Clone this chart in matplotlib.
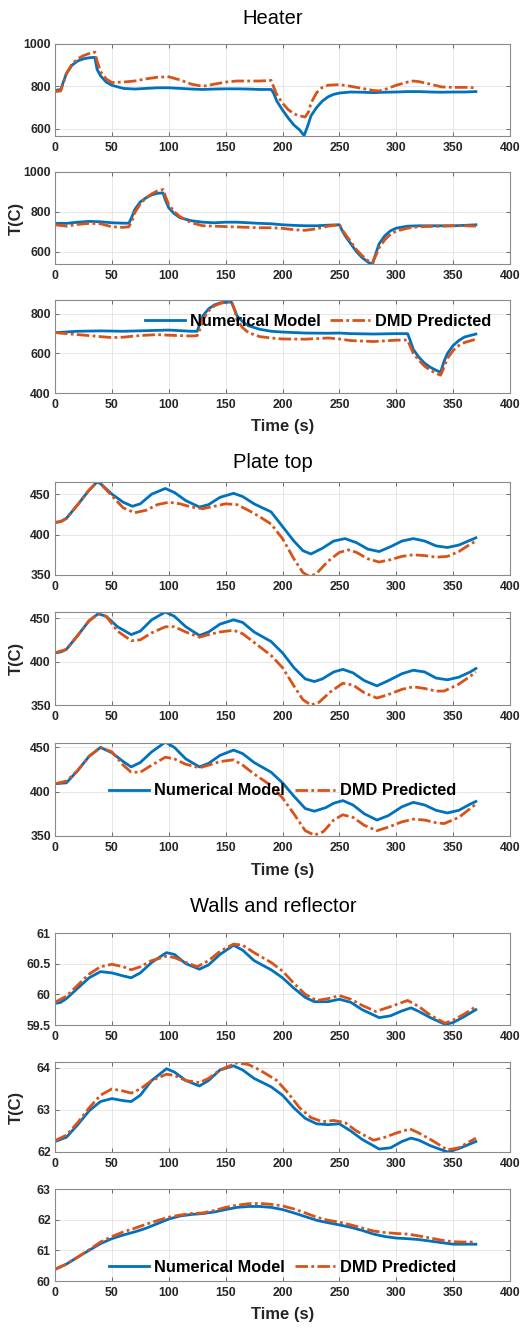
import matplotlib
matplotlib.use("Agg")
import matplotlib.pyplot as plt

plt.rcParams["font.family"] = ["Liberation Sans", "DejaVu Sans"]

FIG_W, FIG_H = 525, 1328
BLUE = "#0072BD"
ORANGE = "#D95319"

# ---------------- Heater ----------------
h1_t_num = [0, 5, 10, 15, 20, 25, 30, 35, 37, 40, 45, 50, 60, 70, 80, 90, 100, 110, 120, 130, 140, 150, 160,
            170, 180, 190, 192, 195, 200, 205, 210, 215, 219, 222, 225, 230, 235, 240, 245, 250, 260, 270, 280,
            290, 300, 310, 320, 330, 340, 350, 360, 370]
h1_num = [780, 785, 860, 900, 920, 930, 935, 937, 880, 850, 820, 805, 790, 787, 790, 793, 793, 790, 787, 785, 787,
          788, 788, 787, 785, 785, 770, 730, 688, 650, 617, 594, 567, 610, 660, 700, 730, 750, 762, 768, 773, 772,
          770, 772, 773, 775, 775, 773, 772, 773, 773, 775]
h1_t_dmd = [0, 5, 10, 15, 20, 25, 30, 35, 37, 40, 45, 50, 60, 70, 80, 90, 100, 110, 120, 130, 140, 150, 160, 170,
            180, 190, 192, 195, 200, 205, 210, 215, 220, 223, 225, 230, 235, 240, 250, 260, 270, 280, 285, 290, 300,
            310, 315, 320, 330, 340, 350, 360, 370]
h1_dmd = [775, 778, 860, 905, 930, 945, 955, 962, 920, 870, 835, 818, 820, 825, 835, 843, 845, 830, 810, 800, 810,
          820, 825, 825, 825, 828, 800, 760, 720, 690, 670, 660, 655, 680, 720, 770, 795, 805, 808, 800, 790, 780,
          778, 785, 805, 820, 825, 822, 810, 797, 795, 795, 793]

h2_t_num = [0, 10, 20, 30, 40, 50, 60, 65, 68, 70, 75, 80, 85, 90, 95, 97, 100, 105, 110, 120, 130, 140, 150, 160,
            170, 180, 190, 200, 210, 220, 230, 240, 250, 253, 255, 260, 265, 270, 275, 279, 282, 285, 290, 295,
            300, 310, 320, 330, 340, 350, 360, 370]
h2_num = [742, 742, 748, 752, 750, 745, 743, 743, 780, 810, 850, 870, 885, 893, 895, 860, 820, 790, 770, 755, 748,
          745, 748, 748, 745, 742, 740, 735, 732, 730, 730, 733, 735, 700, 680, 640, 600, 570, 548, 535, 590, 640,
          680, 705, 718, 728, 730, 730, 730, 730, 732, 735]
h2_t_dmd = [0, 10, 20, 30, 40, 50, 60, 65, 68, 70, 75, 80, 85, 90, 95, 97, 100, 105, 110, 120, 130, 140, 150, 160,
            170, 180, 190, 200, 210, 220, 230, 240, 250, 253, 260, 265, 270, 275, 279, 282, 285, 290, 295, 300, 310,
            320, 330, 340, 350, 360, 370]
h2_dmd = [735, 728, 737, 742, 740, 725, 722, 725, 760, 795, 840, 870, 890, 905, 912, 880, 835, 800, 775, 745, 730,
          728, 726, 724, 722, 720, 720, 717, 710, 707, 715, 728, 735, 705, 650, 610, 580, 555, 545, 580, 620, 660,
          688, 703, 718, 725, 727, 728, 730, 730, 728]

h3_t_num = [0, 20, 40, 60, 80, 100, 110, 120, 125, 128, 130, 135, 140, 145, 150, 155, 158, 160, 165, 170, 180, 190,
            200, 220, 240, 250, 260, 280, 300, 310, 312, 315, 320, 325, 330, 335, 339, 342, 345, 350, 355, 360, 370]
h3_num = [705, 712, 714, 712, 715, 718, 715, 712, 712, 760, 790, 825, 845, 855, 858, 860, 820, 790, 760, 740, 722,
          712, 708, 703, 702, 703, 700, 698, 700, 700, 670, 620, 580, 550, 530, 515, 505, 560, 600, 640, 665, 683,
          698]
h3_t_dmd = [0, 10, 20, 30, 40, 50, 60, 70, 80, 90, 100, 110, 120, 125, 128, 130, 135, 140, 145, 150, 155, 158, 160,
            165, 170, 180, 190, 200, 220, 240, 250, 260, 280, 300, 310, 312, 315, 320, 325, 330, 335, 339, 342, 345,
            350, 355, 360, 370]
h3_dmd = [705, 700, 695, 690, 685, 680, 682, 688, 692, 695, 692, 690, 688, 690, 730, 770, 815, 840, 852, 860, 865,
          820, 770, 730, 705, 685, 678, 673, 672, 678, 673, 665, 660, 667, 668, 640, 600, 565, 535, 515, 500, 490,
          530, 575, 615, 640, 655, 672]

# ---------------- Plate top ----------------
p1_t_num = [0, 5, 10, 20, 30, 37, 40, 50, 60, 68, 75, 85, 97, 105, 115, 127, 135, 145, 157, 165, 175, 190, 200, 210,
            218, 225, 235, 245, 255, 265, 275, 285, 295, 305, 315, 325, 335, 345, 355, 365, 370]
p1_num = [415, 416, 420, 437, 455, 465, 463, 450, 440, 435, 438, 450, 457, 452, 442, 434, 437, 446, 451, 447, 438,
          428, 410, 392, 380, 376, 383, 392, 395, 390, 382, 379, 385, 392, 395, 392, 386, 384, 387, 393, 396]
p1_t_dmd = [0, 5, 10, 20, 30, 37, 40, 50, 60, 70, 80, 90, 100, 110, 120, 130, 140, 150, 160, 170, 180, 190, 200, 210,
            218, 224, 230, 240, 250, 258, 265, 275, 285, 295, 305, 315, 325, 335, 345, 355, 365, 370]
p1_dmd = [415, 416, 420, 437, 455, 465, 463, 448, 433, 427, 430, 437, 440, 438, 434, 432, 435, 438, 437, 430, 422,
          413, 395, 370, 353, 348, 352, 367, 378, 381, 378, 370, 366, 369, 373, 375, 374, 372, 373, 379, 388, 392]

p2_t_num = [0, 5, 10, 20, 30, 38, 45, 55, 67, 75, 85, 97, 105, 115, 127, 135, 145, 157, 165, 175, 190, 200, 210, 220,
            228, 235, 245, 253, 262, 272, 283, 293, 305, 315, 325, 335, 345, 355, 365, 370]
p2_num = [410, 411, 414, 430, 447, 455, 452, 440, 431, 435, 448, 457, 452, 440, 430, 434, 443, 448, 445, 434, 423,
          410, 393, 380, 377, 380, 388, 391, 387, 378, 372, 378, 386, 390, 388, 381, 379, 382, 388, 392]
p2_t_dmd = [0, 10, 20, 30, 38, 45, 55, 67, 75, 85, 97, 105, 115, 127, 135, 145, 157, 165, 175, 190, 200, 210, 218,
            225, 232, 242, 253, 262, 272, 283, 293, 305, 315, 325, 335, 342, 355, 365, 370]
p2_dmd = [410, 414, 430, 447, 455, 452, 435, 424, 425, 433, 440, 440, 434, 428, 431, 434, 436, 432, 422, 407, 393,
          372, 356, 350, 353, 365, 375, 373, 364, 358, 362, 368, 371, 369, 366, 366, 374, 383, 388]

p3_t_num = [0, 10, 20, 30, 40, 50, 60, 67, 75, 85, 97, 105, 115, 127, 135, 145, 157, 165, 175, 190, 200, 210, 220,
            228, 238, 245, 253, 262, 272, 283, 293, 305, 315, 325, 335, 345, 355, 365, 370]
p3_num = [409, 410, 424, 440, 450, 444, 434, 428, 433, 445, 456, 450, 437, 428, 432, 441, 447, 443, 433, 422, 410,
          395, 381, 378, 382, 387, 390, 385, 375, 368, 373, 383, 388, 385, 379, 376, 379, 386, 389]
p3_t_dmd = [0, 10, 20, 30, 40, 50, 60, 67, 75, 85, 97, 105, 115, 127, 135, 145, 157, 165, 175, 190, 200, 210, 220,
            228, 236, 245, 253, 262, 272, 283, 293, 305, 315, 325, 335, 342, 355, 365, 370]
p3_dmd = [409, 412, 424, 440, 450, 445, 430, 422, 422, 430, 439, 437, 431, 427, 430, 434, 436, 430, 420, 407, 393,
          375, 356, 351, 355, 368, 374, 371, 362, 356, 360, 366, 369, 368, 365, 364, 371, 381, 386]

# ---------------- Walls and reflector ----------------
w1_t_num = [0, 5, 10, 20, 30, 40, 50, 60, 67, 75, 85, 98, 105, 115, 127, 135, 145, 157, 165, 175, 190, 200, 210,
            220, 228, 240, 250, 260, 270, 285, 295, 305, 313, 320, 330, 343, 350, 360, 370]
w1_num = [59.85, 59.87, 59.93, 60.10, 60.27, 60.37, 60.35, 60.30, 60.27, 60.35, 60.52, 60.68, 60.65, 60.50, 60.41,
          60.48, 60.65, 60.80, 60.72, 60.55, 60.40, 60.27, 60.10, 59.95, 59.88, 59.88, 59.92, 59.87, 59.75, 59.62,
          59.65, 59.73, 59.78, 59.72, 59.62, 59.51, 59.54, 59.64, 59.75]
w1_t_dmd = [0, 10, 20, 30, 40, 50, 60, 67, 75, 85, 98, 105, 115, 125, 135, 145, 157, 165, 175, 190, 200, 210, 220,
            230, 240, 250, 260, 270, 282, 295, 310, 320, 330, 343, 350, 360, 370]
w1_dmd = [59.87, 59.97, 60.15, 60.33, 60.45, 60.49, 60.45, 60.40, 60.45, 60.55, 60.62, 60.60, 60.52, 60.45, 60.55,
          60.70, 60.82, 60.80, 60.68, 60.52, 60.38, 60.18, 60.00, 59.90, 59.93, 59.98, 59.92, 59.82, 59.72, 59.80,
          59.90, 59.80, 59.66, 59.53, 59.58, 59.68, 59.80]

w2_t_num = [0, 10, 20, 30, 40, 50, 60, 67, 75, 85, 98, 105, 115, 127, 135, 145, 157, 165, 175, 190, 200, 210, 220,
            230, 240, 250, 260, 270, 285, 295, 305, 313, 320, 330, 345, 355, 370]
w2_num = [62.25, 62.35, 62.65, 62.98, 63.20, 63.27, 63.22, 63.20, 63.35, 63.70, 63.98, 63.90, 63.70, 63.57, 63.70,
          63.95, 64.05, 63.95, 63.75, 63.55, 63.35, 63.05, 62.80, 62.67, 62.65, 62.67, 62.50, 62.30, 62.07, 62.10,
          62.25, 62.33, 62.28, 62.15, 62.00, 62.08, 62.25]
w2_t_dmd = [0, 10, 20, 30, 40, 50, 60, 67, 75, 85, 98, 105, 115, 127, 135, 145, 160, 170, 180, 195, 205, 215, 225,
            235, 245, 255, 265, 280, 290, 300, 312, 320, 330, 345, 355, 370]
w2_dmd = [62.27, 62.40, 62.70, 63.05, 63.35, 63.50, 63.45, 63.40, 63.50, 63.70, 63.85, 63.82, 63.70, 63.65, 63.75,
          63.95, 64.12, 64.08, 63.95, 63.70, 63.40, 63.05, 62.82, 62.72, 62.75, 62.70, 62.50, 62.28, 62.35, 62.45,
          62.55, 62.45, 62.30, 62.05, 62.10, 62.33]

w3_t_num = [0, 10, 20, 30, 40, 50, 60, 70, 80, 90, 100, 110, 120, 130, 140, 150, 160, 170, 180, 190, 200, 210, 220,
            230, 240, 250, 260, 270, 280, 290, 300, 310, 320, 330, 340, 350, 360, 370]
w3_num = [60.38, 60.55, 60.78, 61.00, 61.22, 61.38, 61.50, 61.60, 61.72, 61.87, 62.02, 62.12, 62.17, 62.20, 62.25,
          62.33, 62.40, 62.43, 62.43, 62.40, 62.33, 62.22, 62.10, 61.98, 61.90, 61.83, 61.75, 61.65, 61.53, 61.45,
          61.40, 61.38, 61.35, 61.30, 61.25, 61.20, 61.20, 61.20]
w3_t_dmd = [0, 10, 20, 30, 40, 50, 60, 70, 80, 90, 100, 110, 120, 130, 140, 150, 160, 170, 180, 190, 200, 210, 220,
            230, 240, 250, 260, 270, 280, 290, 300, 310, 320, 330, 340, 350, 360, 370]
w3_dmd = [60.38, 60.55, 60.78, 61.02, 61.27, 61.45, 61.60, 61.72, 61.85, 61.97, 62.08, 62.15, 62.20, 62.22, 62.30,
          62.40, 62.47, 62.52, 62.53, 62.50, 62.45, 62.35, 62.22, 62.08, 61.98, 61.92, 61.83, 61.73, 61.63, 61.58,
          61.55, 61.53, 61.47, 61.40, 61.33, 61.28, 61.27, 61.27]

group_titles = ["Heater", "Plate top", "Walls and reflector"]

panels = [
    (h1_t_num, h1_num, h1_t_dmd, h1_dmd, (565, 1000), [600, 800, 1000], None),
    (h2_t_num, h2_num, h2_t_dmd, h2_dmd, (538, 1000), [600, 800, 1000], None),
    (h3_t_num, h3_num, h3_t_dmd, h3_dmd, (400, 870), [400, 600, 800], (0.578, 0.774)),
    (p1_t_num, p1_num, p1_t_dmd, p1_dmd, (350, 465), [350, 400, 450], None),
    (p2_t_num, p2_num, p2_t_dmd, p2_dmd, (350, 457), [350, 400, 450], None),
    (p3_t_num, p3_num, p3_t_dmd, p3_dmd, (350, 455), [350, 400, 450], (0.50, 0.484)),
    (w1_t_num, w1_num, w1_t_dmd, w1_dmd, (59.5, 61), [59.5, 60, 60.5, 61], None),
    (w2_t_num, w2_num, w2_t_dmd, w2_dmd, (62, 64.14), [62, 63, 64], None),
    (w3_t_num, w3_num, w3_t_dmd, w3_dmd, (60, 63), [60, 61, 62, 63], (0.50, 0.152)),
]

# axes top / bottom in pixels
boxes = [(44, 136), (172, 264), (300, 393),
         (482, 575), (612, 705), (743, 836),
         (933, 1025), (1062, 1152), (1189, 1281)]
title_y = [18, 463, 906]
xlabel_y = [427, 870, 1315]

fig = plt.figure(figsize=(FIG_W / 100, FIG_H / 100), dpi=100)
left, right = 55, 510

for i, (tn, yn, td, yd, ylim, yticks, leg) in enumerate(panels):
    top, bot = boxes[i]
    ax = fig.add_axes([left / FIG_W, 1 - bot / FIG_H, (right - left) / FIG_W, (bot - top) / FIG_H])
    ax.plot(tn, yn, color=BLUE, lw=2.0, label="Numerical Model")
    ax.plot(td, yd, color=ORANGE, lw=2.0, ls=(0, (4.5, 1.2, 1, 1.2)), label="DMD Predicted")
    ax.set_xlim(0, 400)
    ax.set_ylim(*ylim)
    ax.set_xticks(range(0, 401, 50))
    ax.set_yticks(yticks)
    ax.set_yticklabels([f"{v:g}" for v in yticks])
    ax.grid(True, color="#e3e3e3", lw=0.6)
    ax.set_axisbelow(True)
    ax.tick_params(direction="in", top=True, right=True, length=3, width=0.6,
                   color="#555555", labelsize=8.8, labelcolor="#262626")
    ax.tick_params(axis="x", pad=4.5)
    ax.tick_params(axis="y", pad=3)
    for lab in ax.get_xticklabels() + ax.get_yticklabels():
        lab.set_fontweight("bold")
    for s in ax.spines.values():
        s.set_color("#8a8a8a")
        s.set_linewidth(0.8)
    if leg is not None:
        ax.legend(loc="center", bbox_to_anchor=leg, ncol=2, frameon=False,
                  prop={"weight": "bold", "size": 11.8}, handlelength=2.45,
                  handletextpad=0.3, columnspacing=0.6, borderpad=0, borderaxespad=0)

for g in range(3):
    fig.text(273 / FIG_W, 1 - title_y[g] / FIG_H, group_titles[g], ha="center", va="center", fontsize=14.5)
    fig.text(283 / FIG_W, 1 - xlabel_y[g] / FIG_H, "Time (s)", ha="center", va="center",
             fontsize=12, fontweight="bold", color="#262626")
    mid_top, mid_bot = boxes[3 * g + 1]
    fig.text(16 / FIG_W, 1 - (mid_top + mid_bot) / 2 / FIG_H, "T(C)", ha="center", va="center",
             rotation=90, fontsize=12, fontweight="bold", color="#262626")

fig.savefig("out.png", dpi=100)
